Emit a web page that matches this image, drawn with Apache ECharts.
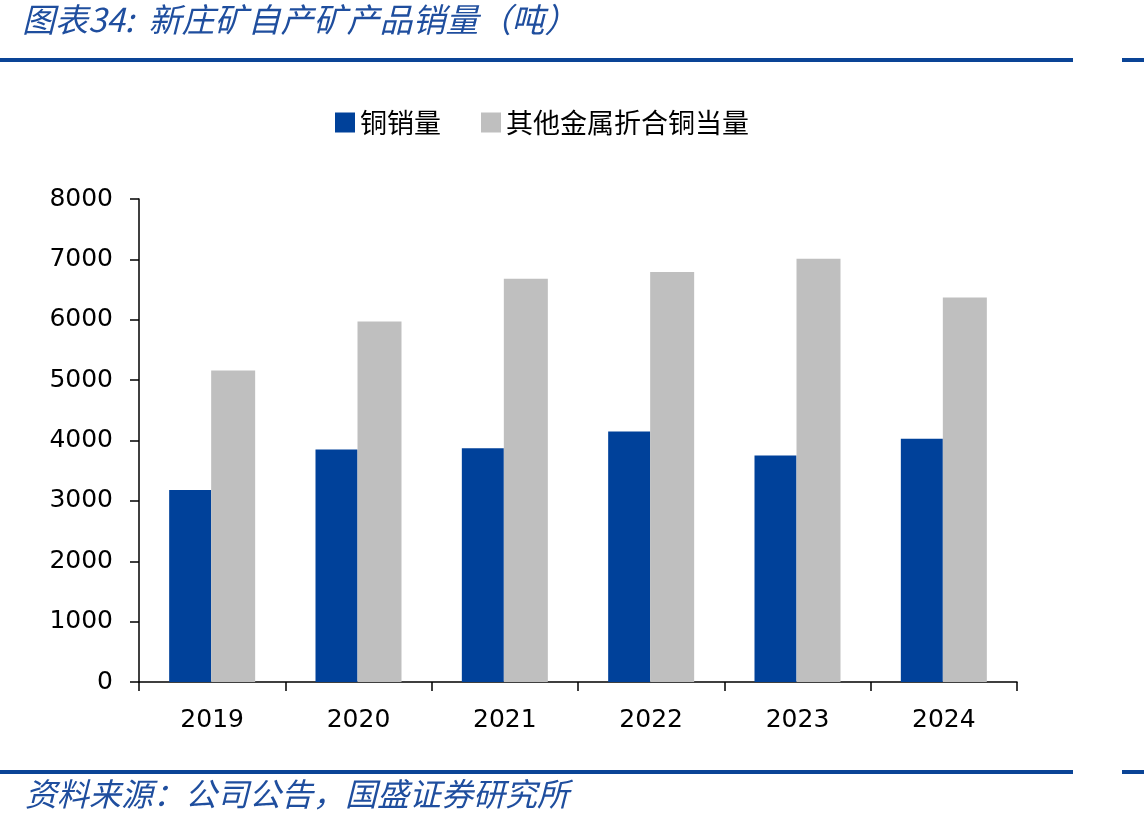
<!DOCTYPE html>
<html>
<head>
<meta charset="utf-8">
<script src="https://cdn.jsdelivr.net/npm/echarts@6/dist/echarts.min.js"></script>
<style>
  html, body { margin: 0; padding: 0; background: #fff; }
  #chart { width: 1144px; height: 828px; }
</style>
</head>
<body>
<div id="chart"></div>
<script>
  // data
  const years = ['2019', '2020', '2021', '2022', '2023', '2024'];
  const copperSales = [3180, 3850, 3870, 4150, 3750, 4030];
  const otherMetalsEq = [5160, 5970, 6680, 6790, 7010, 6370];
  const seriesNames = ['铜销量', '其他金属折合铜当量'];

  const blue = '#00419a';
  const grey = '#bfbfbf';
  const titleBlue = '#1f4e9e';
  const cjk = '"Noto Sans CJK SC", sans-serif';
  const num = '"DejaVu Sans", Verdana, sans-serif';

  const chart = echarts.init(document.getElementById('chart'));
  chart.setOption({
    backgroundColor: '#fff',
    animation: false,
    legend: {
      left: 330,
      top: 104,
      itemWidth: 20,
      itemHeight: 20,
      itemGap: 40,
      icon: 'rect',
      textStyle: { fontFamily: cjk, fontSize: 27, color: '#000' },
      data: seriesNames
    },
    grid: { left: 139, right: 127, top: 199, bottom: 146 },
    xAxis: {
      type: 'category',
      data: years,
      axisLine: { lineStyle: { color: '#000', width: 1.5 } },
      axisTick: { show: true, length: 9, lineStyle: { color: '#000', width: 1.5 } },
      axisLabel: { color: '#000', fontFamily: num, fontSize: 25, margin: 26 }
    },
    yAxis: {
      type: 'value',
      min: 0,
      max: 8000,
      interval: 1000,
      splitLine: { show: false },
      axisLine: { show: true, lineStyle: { color: '#000', width: 1.5 } },
      axisTick: { show: true, length: 9, lineStyle: { color: '#000', width: 1.5 } },
      axisLabel: { color: '#000', fontFamily: num, fontSize: 25, margin: 26, formatter: v => String(v) }
    },
    series: [
      {
        name: seriesNames[0],
        type: 'bar',
        data: copperSales,
        barWidth: 42,
        barGap: '0%',
        itemStyle: { color: blue }
      },
      {
        name: seriesNames[1],
        type: 'bar',
        data: otherMetalsEq,
        barWidth: 44,
        itemStyle: { color: grey }
      }
    ],
    graphic: [
      // title
      {
        type: 'text', left: 22, top: 3,
        style: { text: '图表34:  新庄矿自产矿产品销量（吨）', font: 'italic 33px ' + cjk, fill: titleBlue }
      },
      // top rule
      { type: 'rect', shape: { x: 0, y: 58, width: 1073, height: 4 }, style: { fill: '#0a4496' } },
      { type: 'rect', shape: { x: 1122, y: 58, width: 22, height: 4 }, style: { fill: '#0a4496' } },
      // bottom rule
      { type: 'rect', shape: { x: 0, y: 770, width: 1073, height: 4 }, style: { fill: '#0a4496' } },
      { type: 'rect', shape: { x: 1122, y: 770, width: 22, height: 4 }, style: { fill: '#0a4496' } },
      // source note
      {
        type: 'text', left: 25, top: 778,
        style: { text: '资料来源：公司公告，国盛证券研究所', font: 'italic 32px ' + cjk, fill: titleBlue }
      }
    ]
  });
</script>
</body>
</html>
